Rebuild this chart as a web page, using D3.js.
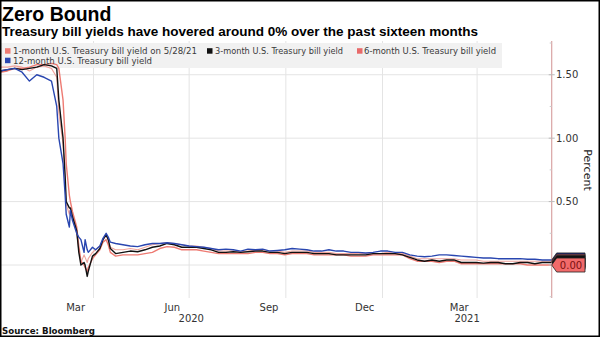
<!DOCTYPE html>
<html><head><meta charset="utf-8">
<script src="https://cdn.jsdelivr.net/npm/d3@7"></script>
<style>body{margin:0;background:#fff}svg{display:block}</style>
</head><body><svg id="c" width="600" height="337"></svg>
<script>
const dates = ["2020-01-03","2020-01-10","2020-01-17","2020-01-24","2020-01-31",
"2020-02-07","2020-02-14","2020-02-21","2020-02-26","2020-02-28",
"2020-03-03","2020-03-05","2020-03-06","2020-03-09","2020-03-10","2020-03-12","2020-03-16","2020-03-18","2020-03-20","2020-03-23","2020-03-24","2020-03-26","2020-03-27","2020-03-31",
"2020-04-03","2020-04-07","2020-04-10","2020-04-13","2020-04-15","2020-04-17","2020-04-22","2020-04-29",
"2020-05-06","2020-05-13","2020-05-20","2020-05-27",
"2020-06-03","2020-06-10","2020-06-17","2020-06-24",
"2020-07-01","2020-07-08","2020-07-15","2020-07-22","2020-07-29",
"2020-08-05","2020-08-12","2020-08-19","2020-08-26",
"2020-09-02","2020-09-09","2020-09-16","2020-09-23","2020-09-30",
"2020-10-07","2020-10-14","2020-10-21","2020-10-28",
"2020-11-04","2020-11-11","2020-11-18","2020-11-25",
"2020-12-02","2020-12-09","2020-12-16","2020-12-23","2020-12-30",
"2021-01-06","2021-01-13","2021-01-20","2021-01-27",
"2021-02-03","2021-02-10","2021-02-17","2021-02-24",
"2021-03-03","2021-03-10","2021-03-17","2021-03-24","2021-03-31",
"2021-04-07","2021-04-14","2021-04-21","2021-04-28",
"2021-05-05","2021-05-12","2021-05-19","2021-05-26",
"2021-06-02","2021-06-11"];

const month12 = [1.53,1.54,1.55,1.52,1.45,
1.50,1.48,1.45,1.25,1.00,
0.80,0.55,0.40,0.30,0.43,0.35,0.25,0.22,0.20,0.10,0.20,0.12,0.10,0.14,
0.12,0.15,0.21,0.25,0.22,0.18,0.17,0.16,
0.15,0.145,0.16,0.17,
0.17,0.175,0.17,0.16,
0.15,0.145,0.14,0.13,0.12,
0.125,0.12,0.11,0.125,
0.12,0.125,0.11,0.115,0.12,
0.13,0.125,0.12,0.11,
0.11,0.12,0.11,0.11,
0.10,0.10,0.095,0.10,0.11,
0.11,0.10,0.10,0.08,
0.07,0.065,0.07,0.08,
0.08,0.075,0.07,0.065,0.06,
0.055,0.055,0.05,0.05,
0.05,0.05,0.045,0.045,
0.04,0.04];

const month3 = [1.53,1.54,1.55,1.54,1.55,
1.56,1.58,1.57,1.55,1.30,
1.00,0.70,0.50,0.45,0.45,0.38,0.27,0.10,0.00,0.02,0.00,-0.09,-0.05,0.07,
0.09,0.13,0.20,0.24,0.20,0.13,0.09,0.10,
0.11,0.105,0.12,0.14,
0.15,0.17,0.16,0.14,
0.14,0.14,0.13,0.12,0.10,
0.10,0.105,0.10,0.105,
0.11,0.11,0.10,0.10,0.09,
0.10,0.10,0.10,0.09,
0.09,0.09,0.08,0.08,
0.08,0.08,0.08,0.09,0.09,
0.09,0.09,0.08,0.06,
0.04,0.03,0.04,0.03,
0.04,0.04,0.02,0.02,0.02,
0.015,0.02,0.02,0.01,
0.01,0.02,0.02,0.01,
0.02,0.02];

const month6 = [1.56,1.56,1.57,1.56,1.53,
1.56,1.57,1.55,1.48,1.20,
0.95,0.65,0.48,0.40,0.45,0.38,0.25,0.12,0.02,0.08,0.06,0.02,0.05,0.10,
0.12,0.15,0.20,0.23,0.20,0.14,0.12,0.12,
0.13,0.12,0.14,0.16,
0.17,0.175,0.17,0.16,
0.15,0.15,0.14,0.13,0.11,
0.11,0.11,0.105,0.11,
0.115,0.12,0.11,0.11,0.10,
0.11,0.11,0.11,0.10,
0.10,0.10,0.09,0.09,
0.09,0.09,0.09,0.09,0.09,
0.10,0.09,0.09,0.07,
0.05,0.05,0.05,0.05,
0.05,0.05,0.04,0.04,0.04,
0.03,0.03,0.03,0.03,
0.03,0.03,0.03,0.03,
0.03,0.03];

const month1 = [1.52,1.53,1.55,1.55,1.56,
1.58,1.58,1.59,1.58,1.55,
1.30,1.00,0.80,0.55,0.50,0.42,0.30,0.15,0.03,0.00,-0.02,-0.05,-0.02,0.05,
0.08,0.12,0.18,0.20,0.16,0.10,0.07,0.08,
0.08,0.08,0.09,0.10,
0.13,0.145,0.14,0.12,
0.12,0.12,0.11,0.10,0.09,
0.09,0.09,0.09,0.09,
0.10,0.10,0.09,0.09,0.08,
0.09,0.09,0.09,0.08,
0.08,0.08,0.08,0.08,
0.07,0.07,0.07,0.08,0.08,
0.08,0.08,0.08,0.05,
0.03,0.03,0.03,0.02,
0.03,0.03,0.01,0.01,0.01,
0.01,0.01,0.01,0.01,
0.01,0.01,0.00,0.00,
0.00,0.00];

const seriesNames = ["1-month U.S. Treasury bill yield on 5/28/21","3-month U.S. Treasury bill yield","6-month U.S. Treasury bill yield","12-month U.S. Treasury bill yield"];
const seriesColors = ["#ee7b73","#111111","#f0a39c","#2946b0"];
const yTicks = [0, 0.5, 1.0, 1.5];
const yMinorTicks = [-0.25, 0.25, 0.75, 1.25, 1.75];
const monthLabels = [["2020-03-15","Mar"],["2020-06-15","Jun"],["2020-09-15","Sep"],["2020-12-15","Dec"],["2021-03-15","Mar"]];
const gridDates = ["2020-04-01","2020-07-01","2020-10-01","2021-01-01","2021-04-01"];
const yearLabels = ["2020","2021"];

const parse = d3.timeParse("%Y-%m-%d");
const svg = d3.select("#c");
const W = 600, H = 337;
const plotL = 0, plotR = 551.7, plotT = 41, plotB = 298;

const x = d3.scaleTime().domain([parse(dates[0]), parse(dates[dates.length-1])]).range([plotL, plotR]);
const y = d3.scaleLinear().domain([-0.26, 1.766]).range([plotB, plotT]);

svg.append("rect").attr("x",0).attr("y",0).attr("width",W).attr("height",H).attr("fill","#fff");

// grid
const g = svg.append("g");
g.selectAll(".hg").data(yTicks).join("line")
  .attr("x1", plotL).attr("x2", plotR).attr("y1", d=>y(d)).attr("y2", d=>y(d))
  .attr("stroke","#e4e4e4").attr("stroke-width",1);
g.selectAll(".vg").data(gridDates).join("line")
  .attr("x1", d=>x(parse(d))).attr("x2", d=>x(parse(d))).attr("y1", plotT).attr("y2", plotB)
  .attr("stroke","#e4e4e4").attr("stroke-width",1);

// legend background
svg.append("rect").attr("x",1).attr("y",43).attr("width",501).attr("height",25).attr("fill","#f1f1f1");

// lines
const allSeries = [month1, month3, month6, month12];
const drawOrder = [2, 0, 1, 3];
const line = d3.line().x((d,i)=>x(parse(dates[i]))).y(d=>y(d));
drawOrder.forEach(k=>{
  svg.append("path").datum(allSeries[k]).attr("d", line)
    .attr("fill","none").attr("stroke", seriesColors[k]).attr("stroke-width", k===2?1.1:1.4)
    .attr("stroke-linejoin","round");
});

// y axis
svg.append("line").attr("x1",plotR).attr("x2",plotR).attr("y1",plotT).attr("y2",plotB)
  .attr("stroke","#d9a3a3").attr("stroke-width",1.2);
svg.selectAll(".mt").data(yTicks).join("line")
  .attr("x1",plotR-3).attr("x2",plotR+3).attr("y1",d=>y(d)).attr("y2",d=>y(d))
  .attr("stroke","#bbbbbb");
svg.selectAll(".nt").data(yMinorTicks).join("line")
  .attr("x1",plotR-2).attr("x2",plotR).attr("y1",d=>y(d)).attr("y2",d=>y(d))
  .attr("stroke","#cccccc");
svg.selectAll(".yl").data(yTicks.filter(d=>d>0)).join("text")
  .attr("x",556).attr("y",d=>y(d)+3.6).text(d=>d3.format(".2f")(d))
  .attr("font-family","DejaVu Sans").attr("font-size",10).attr("fill","#333");
svg.append("text").attr("transform","translate(584,170) rotate(90)")
  .attr("text-anchor","middle").text("Percent")
  .attr("font-family","DejaVu Sans").attr("font-size",11).attr("fill","#222");

// value tags (last values)
const lastVals = allSeries.map(s=>s[s.length-1]);
const tagColors = ["#f26a6a","#111111","#e86060","#1c2b8c"];
const tagOrder = [3, 2, 1, 0];
tagOrder.forEach(k=>{
  const cy = y(lastVals[k]);
  const h = 7;
  const p = `M${plotR},${cy} L${plotR+5},${cy-h} L585,${cy-h} L585,${cy+h} L${plotR+5},${cy+h} Z`;
  svg.append("path").attr("d",p).attr("fill",tagColors[k]).attr("stroke","#222").attr("stroke-width",0.8);
});
svg.append("text").attr("x",571).attr("y",y(lastVals[0])+4).attr("text-anchor","middle")
  .text(d3.format(".2f")(lastVals[0])).attr("font-family","DejaVu Sans").attr("font-size",10).attr("fill","#7a1010");

// x labels
svg.selectAll(".ml").data(monthLabels).join("text")
  .attr("x",d=>x(parse(d[0]))).attr("y",311).attr("text-anchor","middle").text(d=>d[1])
  .attr("font-family","DejaVu Sans").attr("font-size",10).attr("fill","#333");
const yStart = [x.domain()[0], parse("2021-01-01")];
const yEnd = [parse("2021-01-01"), x.domain()[1]];
svg.selectAll(".yr").data(yearLabels).join("text")
  .attr("x",(d,i)=>(x(yStart[i])+x(yEnd[i]))/2).attr("y",322).attr("text-anchor","middle").text(d=>d)
  .attr("font-family","DejaVu Sans").attr("font-size",10).attr("fill","#333");

// legend
const legPos = [[5,51,13,184],[207,51,215,128],[357,51,364,132],[5,60.5,13,139]];
seriesNames.forEach((n,k)=>{
  const [sx, cy, tx, tl] = legPos[k];
  svg.append("rect").attr("x",sx).attr("y",cy-2.8).attr("width",5.5).attr("height",5.5).attr("fill",k===2?"#e86a6a":seriesColors[k]);
  svg.append("text").attr("x",tx).attr("y",cy+3.2).text(n)
    .attr("font-family","DejaVu Sans Condensed, DejaVu Sans").attr("font-size",9.4).attr("fill","#3a3a3a")
    .attr("textLength",tl).attr("lengthAdjust","spacingAndGlyphs");
});

// titles
svg.append("text").attr("x",2).attr("y",21).text("Zero Bound")
  .attr("font-family","Liberation Sans, Arial").attr("font-weight","bold").attr("font-size",19.5).attr("fill","#000");
svg.append("text").attr("x",2).attr("y",36).text("Treasury bill yields have hovered around 0% over the past sixteen months")
  .attr("font-family","Liberation Sans, Arial").attr("font-weight","bold").attr("font-size",13.5).attr("fill","#000")
  .attr("textLength",476).attr("lengthAdjust","spacingAndGlyphs");
svg.append("text").attr("x",2).attr("y",334).text("Source: Bloomberg")
  .attr("font-family","DejaVu Sans").attr("font-weight","bold").attr("font-size",9).attr("fill","#111")
  .attr("textLength",93).attr("lengthAdjust","spacingAndGlyphs");

// border
svg.append("rect").attr("x",0.75).attr("y",0.75).attr("width",W-1.5).attr("height",H-1.5)
  .attr("fill","none").attr("stroke","#000").attr("stroke-width",1.5);
</script></body></html>
